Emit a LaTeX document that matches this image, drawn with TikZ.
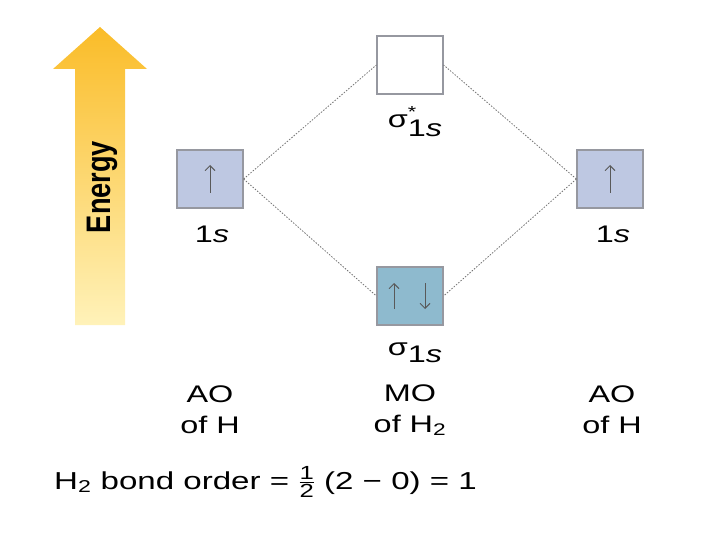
\documentclass[tikz,border=0pt]{standalone}
\usepackage{amsmath}
\usepackage{fontspec}
\setmainfont{Liberation Sans}[FakeStretch=1.35]
\newfontfamily\energyfont{Liberation Sans}[FakeStretch=0.8]
\usetikzlibrary{positioning, arrows.meta}
\definecolor{aofill}{RGB}{190,200,226}
\definecolor{mofill}{RGB}{142,186,206}
\definecolor{boxline}{RGB}{150,152,160}
\definecolor{energytop}{RGB}{250,188,40}
\definecolor{energybot}{RGB}{255,242,185}
\newcommand{\fracdigit}[1]{\text{\fontsize{19}{19}\selectfont #1}}

\begin{document}
\begin{tikzpicture}[x=1pt, y=-1pt,
    orb/.style={rectangle, draw=boxline, line width=1.2pt, minimum width=66pt,
                minimum height=58pt, inner sep=0pt},
    ao/.style={orb, fill=aofill},
    mo/.style={orb, fill=mofill},
    lbl/.style={font=\fontsize{24}{31}\selectfont, align=center, inner sep=0pt},
    spin/.style={line width=0.9pt, draw=black!65, -{Straight Barb[length=5pt, width=10pt]}},
    corr/.style={draw=black!55, dash pattern=on 1.5pt off 1.5pt, line width=0.8pt}
]
\useasboundingbox (0,0) rectangle (720,540);

% energy axis
\shade[top color=energytop, bottom color=energybot]
    (75,325) -- (75,69) -- (53,69) -- (100,27) -- (147,69) -- (125,69) -- (125,325) -- cycle;
\node[rotate=90, font=\energyfont\bfseries\fontsize{34}{34}\selectfont] (energy) at (102,187) {Energy};

% orbitals
\node[ao] (aoL) at (210,179) {};
\node[ao] (aoR) at (610,179) {};
\node[orb, fill=white] (antib) at (410,65) {};
\node[mo] (bond) at (410,296) {};

\draw[spin] ([yshift=-14pt]aoL.center) -- ([yshift=14pt]aoL.center);
\draw[spin] ([yshift=-14pt]aoR.center) -- ([yshift=14pt]aoR.center);
\draw[spin] ([xshift=-16pt, yshift=-13pt]bond.center) -- ([xshift=-16pt, yshift=13pt]bond.center);
\draw[spin] ([xshift=15pt, yshift=13pt]bond.center) -- ([xshift=15pt, yshift=-13pt]bond.center);

\node[lbl, anchor=base] (sL)      at (212,243) {1\textit{s}};
\node[lbl, anchor=base] (sR)      at (613,243) {1\textit{s}};
\node[lbl, anchor=base] (antiLbl) at (415,128)
    {σ\rlap{\raisebox{10pt}{\fontsize{16}{16}\selectfont *}}\raisebox{-9pt}{1\textit{s}}};
\node[lbl, anchor=base] (bondLbl) at (415,355) {σ\raisebox{-7pt}{1\textit{s}}};

\draw[corr] (aoL.east) -- (antib.west);
\draw[corr] (aoL.east) -- (bond.west);
\draw[corr] (aoR.west) -- (antib.east);
\draw[corr] (aoR.west) -- (bond.east);

\node[lbl] (aoTxtL) at (210,410) {AO\\of H};
\node[lbl] (moTxt)  at (410,410) {MO\\of H\textsubscript{2}};
\node[lbl] (aoTxtR) at (612,410) {AO\\of H};
\node[lbl, anchor=base west, font=\fontsize{24.5}{31}\selectfont] (order) at (54,489)
    {H\textsubscript{2} bond order = $\frac{\fracdigit{1}}{\fracdigit{2}}$ (2 − 0) = 1};

\end{tikzpicture}
\end{document}
